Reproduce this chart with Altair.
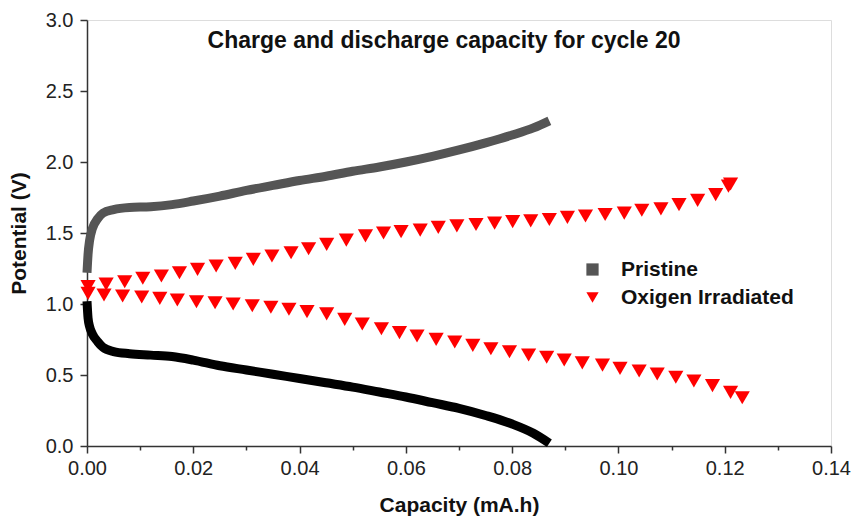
import altair as alt
import pandas as pd

# Pristine (dense square markers, drawn as thick bands)
pr_charge_x = [0.0, 0.0002, 0.0005, 0.001, 0.002, 0.003, 0.005, 0.008, 0.012, 0.016, 0.02, 0.025, 0.03,
               0.035, 0.04, 0.045, 0.05, 0.055, 0.06, 0.065, 0.07, 0.075, 0.08, 0.084, 0.087]
pr_charge_y = [1.22, 1.35, 1.45, 1.53, 1.60, 1.64, 1.665, 1.68, 1.685, 1.70, 1.725, 1.76, 1.80,
               1.835, 1.87, 1.90, 1.935, 1.965, 2.0, 2.04, 2.085, 2.135, 2.19, 2.24, 2.29]
pr_dis_x = [0.0, 0.0002, 0.0005, 0.001, 0.002, 0.003, 0.005, 0.008, 0.012, 0.016, 0.02, 0.025, 0.03,
            0.035, 0.04, 0.045, 0.05, 0.055, 0.06, 0.065, 0.07, 0.075, 0.08, 0.084, 0.087]
pr_dis_y = [1.02, 0.90, 0.84, 0.79, 0.735, 0.695, 0.665, 0.65, 0.64, 0.63, 0.605, 0.565, 0.535,
            0.505, 0.475, 0.445, 0.415, 0.38, 0.345, 0.305, 0.265, 0.215, 0.155, 0.09, 0.02]

# Oxigen Irradiated (triangles)
ox_charge_x = [0.0002, 0.0036, 0.0071, 0.0105, 0.0140, 0.0174, 0.0208, 0.0243, 0.0279, 0.0313, 0.0348,
               0.0384, 0.0417, 0.0451, 0.0488, 0.0524, 0.0558, 0.0591, 0.0627, 0.0661, 0.0696, 0.0732,
               0.0767, 0.0801, 0.0835, 0.0870, 0.0904, 0.0938, 0.0975, 0.1011, 0.1044, 0.1080, 0.1114,
               0.1149, 0.1183, 0.1207, 0.1211]
ox_charge_y = [1.122, 1.14, 1.157, 1.181, 1.197, 1.22, 1.244, 1.268, 1.286, 1.314, 1.338,
               1.361, 1.389, 1.42, 1.45, 1.48, 1.50, 1.51, 1.52, 1.54, 1.55, 1.56,
               1.57, 1.58, 1.585, 1.595, 1.61, 1.62, 1.63, 1.64, 1.66, 1.67, 1.70,
               1.73, 1.77, 1.83, 1.845]
ox_dis_x = [0.0002, 0.0032, 0.0067, 0.0103, 0.0137, 0.0170, 0.0206, 0.0241, 0.0275, 0.0311, 0.0346,
            0.0380, 0.0414, 0.0451, 0.0485, 0.0518, 0.0554, 0.0588, 0.0621, 0.0657, 0.0692, 0.0726,
            0.0760, 0.0795, 0.0831, 0.0865, 0.0898, 0.0932, 0.0970, 0.1003, 0.1039, 0.1073, 0.1108,
            0.1142, 0.1177, 0.1211, 0.1233]
ox_dis_y = [1.075, 1.063, 1.056, 1.049, 1.040, 1.028, 1.016, 1.009, 1.0, 0.988, 0.977,
            0.963, 0.946, 0.93, 0.892, 0.859, 0.826, 0.798, 0.775, 0.751, 0.732, 0.709,
            0.685, 0.664, 0.641, 0.625, 0.606, 0.585, 0.570, 0.547, 0.528, 0.507, 0.484,
            0.458, 0.425, 0.378, 0.340]

series_names = ["Pristine", "Oxigen Irradiated"]
series_colors = ["#555555", "#ff0000"]
series_shapes = ["square", "triangle-down"]

x_ticks = [0.0, 0.01, 0.02, 0.03, 0.04, 0.05, 0.06, 0.07, 0.08, 0.09, 0.10, 0.11, 0.12, 0.13, 0.14]
y_ticks = [0.0, 0.25, 0.5, 0.75, 1.0, 1.25, 1.5, 1.75, 2.0, 2.25, 2.5, 2.75, 3.0]

chart_title = "Charge and discharge capacity for cycle 20"
x_title = "Capacity (mA.h)"
y_title = "Potential (V)"

FONT = "Liberation Sans"

charge_df = pd.DataFrame({"x": pr_charge_x, "y": pr_charge_y})
dis_df = pd.DataFrame({"x": pr_dis_x, "y": pr_dis_y})
ox_df = pd.concat([
    pd.DataFrame({"x": ox_charge_x, "y": ox_charge_y, "series": series_names[1], "part": "charge"}),
    pd.DataFrame({"x": ox_dis_x, "y": ox_dis_y, "series": series_names[1], "part": "discharge"}),
])

x_major = "abs(datum.value*50 - round(datum.value*50)) < 1e-6"
y_major = "abs(datum.value*2 - round(datum.value*2)) < 1e-6"

x_scale = alt.Scale(domain=[0, 0.14], nice=False, zero=False)
y_scale = alt.Scale(domain=[0, 3.0], nice=False, zero=False)

x_axis = alt.Axis(
    values=x_ticks, title=x_title,
    labelExpr=f"{x_major} ? format(datum.value, '.2f') : ''",
    tickSize={"condition": {"test": x_major, "value": 7}, "value": 4},
    grid=False, labelFontSize=20, labelFont=FONT, labelColor="#222222", labelPadding=5,
    labelFlush=False, labelOverlap=False,
    titleFont=FONT, titleFontSize=21, titleFontWeight="bold", titleColor="#111111",
    titleY=59, titleBaseline="middle",
    domainColor="#333333", domainWidth=1.5, tickColor="#333333", tickWidth=1.5,
)
y_axis = alt.Axis(
    values=y_ticks, title=y_title,
    labelExpr=f"{y_major} ? format(datum.value, '.1f') : ''",
    tickSize={"condition": {"test": y_major, "value": 7}, "value": 4},
    grid=False, labelFontSize=20, labelFont=FONT, labelColor="#222222", labelPadding=7,
    labelFlush=False, labelOverlap=False,
    titleFont=FONT, titleFontSize=21, titleFontWeight="bold", titleColor="#111111",
    titleX=-68, titleBaseline="middle",
    domainColor="#333333", domainWidth=1.5, tickColor="#333333", tickWidth=1.5,
)

charge_line = alt.Chart(charge_df).mark_line(
    color="#555555", strokeWidth=9, strokeCap="butt", strokeJoin="round", interpolate="monotone"
).encode(
    x=alt.X("x:Q", scale=x_scale, axis=x_axis),
    y=alt.Y("y:Q", scale=y_scale, axis=y_axis),
)

dis_line = alt.Chart(dis_df).mark_line(
    color="#000000", strokeWidth=9, strokeCap="butt", strokeJoin="round", interpolate="monotone"
).encode(
    x=alt.X("x:Q", scale=x_scale),
    y=alt.Y("y:Q", scale=y_scale),
)

ox_points = alt.Chart(ox_df).mark_point(filled=True, opacity=1, size=230).encode(
    x=alt.X("x:Q", scale=x_scale),
    y=alt.Y("y:Q", scale=y_scale),
    color=alt.Color("series:N", scale=alt.Scale(domain=series_names, range=series_colors),
                    legend=alt.Legend(
                        title=None, orient="none", legendX=495, legendY=239,
                        labelFont=FONT, labelFontSize=21, labelFontWeight="bold", labelColor="#111111",
                        labelLimit=400,
                        symbolSize=150, labelOffset=18, rowPadding=6, padding=0,
                        symbolStrokeWidth=0,
                    )),
    shape=alt.Shape("series:N", scale=alt.Scale(domain=series_names, range=series_shapes)),
)

title_df = pd.DataFrame({"t": [chart_title]})
title_mark = alt.Chart(title_df).mark_text(
    font=FONT, fontSize=23, fontWeight="bold", color="#111111", align="center", baseline="middle"
).encode(
    text="t:N",
    x=alt.value(357),
    y=alt.value(21),
)

chart = alt.layer(charge_line, dis_line, ox_points, title_mark).properties(
    width=744, height=426,
    autosize=alt.AutoSizeParams(type="none"),
    padding={"left": 79, "top": 12, "right": 20, "bottom": 74},
).configure_view(
    stroke="#333333", strokeWidth=1.5
).configure(background="white")

chart.save("out.html", embed_options={"renderer": "svg", "actions": False})
